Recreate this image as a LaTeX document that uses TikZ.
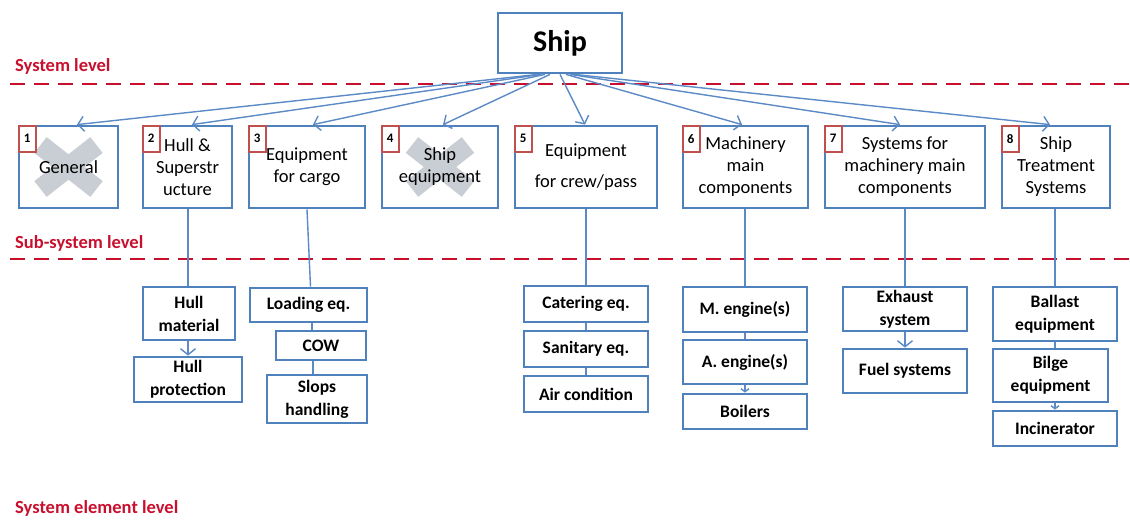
\documentclass[tikz,border=0pt]{standalone}
\usepackage{fontspec}
\setmainfont{Carlito}
\usetikzlibrary{arrows.meta,backgrounds}
\definecolor{boxblue}{HTML}{4F81BD}
\definecolor{linkblue}{HTML}{5B8AC6}
\definecolor{levelred}{HTML}{C8102E}
\definecolor{badgered}{HTML}{C0504D}
\definecolor{crossgrey}{HTML}{C9CED4}
\tikzset{
  sysbox/.style={draw=boxblue, line width=2.8pt, inner sep=2pt, align=center,
    font=\fontsize{18.5}{22}\selectfont},
  subbox/.style={draw=boxblue, line width=2.8pt, inner sep=2pt, align=center,
    font=\bfseries\fontsize{17.5}{23}\selectfont},
  badge/.style={draw=badgered, line width=2.2pt, minimum width=17, minimum height=26,
    inner sep=0pt, font=\bfseries\fontsize{13}{13}\selectfont},
  link/.style={draw=linkblue, line width=1.4pt},
  arrowlink/.style={link, -{Straight Barb[length=6pt,width=15pt]}},
  smallarrow/.style={link, -{Straight Barb[length=3pt,width=8pt]}},
  levelline/.style={draw=levelred, line width=2.4pt, dash pattern=on 15pt off 9pt},
  levellabel/.style={anchor=west, text=levelred, font=\bfseries\fontsize{18.5}{20}\selectfont, inner sep=0pt},
  cross/.style={draw=crossgrey, line width=20pt}
}
\begin{document}
\begin{tikzpicture}[x=1pt,y=-1pt]
\useasboundingbox (0,0) rectangle (1130,522);

% top of the tree
\node[draw=boxblue, line width=2.8pt, minimum width=124, minimum height=60,
  font=\bfseries\fontsize{30}{32}\selectfont] (ship) at (560,43) {Ship};

% level separators and their labels
\coordinate (sysL) at (10,84);   \coordinate (sysR) at (1130,84);
\coordinate (subL) at (10,259);  \coordinate (subR) at (1130,259);
\draw[levelline] (sysL) -- (sysR);
\draw[levelline] (subL) -- (subR);
\node[levellabel] (lsys) at (15,66) {System level};
\node[levellabel] (lsub) at (15,243) {Sub-system level};
\node[levellabel] (lelem) at (15,508) {System element level};

% system level boxes
\node[sysbox, minimum width=99,  minimum height=82] (b1) at (68.5,167) {General};
\node[sysbox, minimum width=89,  minimum height=82] (b2) at (187.5,167) {Hull \&\\Superstr\\ucture};
\node[sysbox, minimum width=116, minimum height=82] (b3) at (307,167) {Equipment\\for cargo};
\node[sysbox, minimum width=116, minimum height=82] (b4) at (440,167) {Ship\\equipment};
\node[sysbox, minimum width=142, minimum height=82] (b5) at (586,167) {Equipment\\[9pt]for crew/pass};
\node[sysbox, minimum width=125, minimum height=82] (b6) at (745.5,167) {Machinery\\main\\components};
\node[sysbox, minimum width=160, minimum height=82] (b7) at (905,167) {Systems for\\machinery main\\components};
\node[sysbox, minimum width=108, minimum height=82] (b8) at (1056,167) {Ship\\Treatment\\Systems};

% struck-out groups
\begin{scope}[on background layer]
  \draw[cross] ([shift={(-28,-22)}]b1.center) -- ([shift={(28,22)}]b1.center);
  \draw[cross] ([shift={(-28,22)}]b1.center) -- ([shift={(28,-22)}]b1.center);
  \draw[cross] ([shift={(-28,-22)}]b4.center) -- ([shift={(28,22)}]b4.center);
  \draw[cross] ([shift={(-28,22)}]b4.center) -- ([shift={(28,-22)}]b4.center);
\end{scope}

% numbered badges
\foreach \i in {1,...,8}
  \node[badge, anchor=north west] (n\i) at (b\i.north west) {\i};

% branches from the ship
\draw[arrowlink] ([xshift=-22]ship.south) -- ([xshift=8.5]b1.north);
\draw[arrowlink] ([xshift=-19]ship.south) -- ([xshift=4.5]b2.north);
\draw[arrowlink] ([xshift=-15]ship.south) -- ([xshift=6]b3.north);
\draw[arrowlink] ([xshift=-10]ship.south) -- ([xshift=3]b4.north);
\draw[arrowlink] ([xshift=0]ship.south) -- ([xshift=-1]b5.north);
\draw[arrowlink] ([xshift=6]ship.south) -- ([xshift=-3.5]b6.north);
\draw[arrowlink] ([xshift=10]ship.south) -- ([xshift=-5]b7.north);
\draw[arrowlink] ([xshift=14]ship.south) -- ([xshift=-6]b8.north);

% system element boxes
\node[subbox, minimum width=92,  minimum height=53] (hm) at (189,313.5) {Hull\\material};
\node[subbox, minimum width=108, minimum height=45] (hp) at (188,379.5) {Hull\\protection};
\node[subbox, minimum width=117, minimum height=34] (load) at (308.5,305) {Loading eq.};
\node[subbox, minimum width=90,  minimum height=29] (cow) at (321,345.5) {COW};
\node[subbox, minimum width=100, minimum height=48] (slops) at (317,399) {Slops\\handling};
\node[subbox, minimum width=124, minimum height=36] (cat) at (586,304) {Catering eq.};
\node[subbox, minimum width=124, minimum height=36] (san) at (586,349) {Sanitary eq.};
\node[subbox, minimum width=124, minimum height=36] (air) at (586,394) {Air condition};
\node[subbox, minimum width=124, minimum height=45] (me) at (745,309.5) {M. engine(s)};
\node[subbox, minimum width=124, minimum height=44] (ae) at (745,362) {A. engine(s)};
\node[subbox, minimum width=124, minimum height=35] (boil) at (745,411.5) {Boilers};
\node[subbox, minimum width=124, minimum height=44] (exh) at (905,309) {Exhaust\\system};
\node[subbox, minimum width=124, minimum height=44] (fuel) at (905,371) {Fuel systems};
\node[subbox, minimum width=124, minimum height=54] (ball) at (1055,314) {Ballast\\equipment};
\node[subbox, minimum width=115, minimum height=53] (bilge) at (1050.5,375.5) {Bilge\\equipment};
\node[subbox, minimum width=124, minimum height=35] (inc) at (1055,428.5) {Incinerator};

% links from the systems down to their elements
\draw[link] ([xshift=0.5]b2.south) -- ([xshift=0.5]b2.south |- hm.north);
\draw[link] (b3.south) -- ([xshift=2]load.north);
\draw[link] (cat.north |- b5.south) -- (cat.north);
\draw[link] (me.north |- b6.south) -- (me.north);
\draw[link] (b7.south) -- (exh.north);
\draw[link] (ball.north |- b8.south) -- (ball.north);

% links among the elements
\draw[arrowlink] (hp.north |- hm.south) -- (hp.north);
\draw[link] ([xshift=3.5]load.south) -- ([xshift=3.5]load.south |- cow.north);
\draw[link] ([xshift=-8]cow.south) -- ([xshift=-8]cow.south |- slops.north);
\draw[link] (cat.south) -- (san.north);
\draw[link] (san.south) -- (air.north);
\draw[link] (me.south) -- (ae.north);
\draw[smallarrow] (ae.south) -- (boil.north);
\draw[arrowlink] (exh.south) -- (fuel.north);
\draw[link] (ball.south) -- (ball.south |- bilge.north);
\draw[smallarrow] (inc.north |- bilge.south) -- (inc.north);
\end{tikzpicture}
\end{document}
